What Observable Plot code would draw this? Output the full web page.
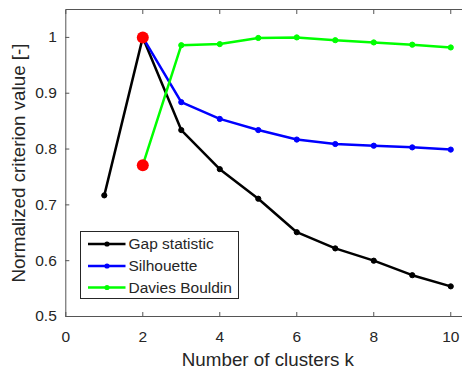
<!DOCTYPE html>
<html>
<head>
<meta charset="utf-8">
<script src="https://cdn.jsdelivr.net/npm/d3@7"></script>
<script src="https://cdn.jsdelivr.net/npm/@observablehq/plot@0.6"></script>
<style>
  html, body { margin: 0; padding: 0; background: #fff; overflow: hidden; }
  #chart { position: relative; width: 462px; height: 370px; overflow: hidden; }
  #chart > svg.plot-main { position: absolute; left: 0; top: 0; max-width: none !important; }
  #chart > svg.legend { position: absolute; left: 79.5px; top: 231px; }
</style>
</head>
<body>
<div id="chart"></div>
<script>
// Number of clusters k and the normalized value of each criterion
const clustersGap = [1, 2, 3, 4, 5, 6, 7, 8, 9, 10];
const gapStatistic = [0.717, 1.0, 0.834, 0.764, 0.711, 0.651, 0.622, 0.600, 0.574, 0.554];

const clustersSil = [2, 3, 4, 5, 6, 7, 8, 9, 10];
const silhouette = [1.0, 0.884, 0.854, 0.834, 0.817, 0.809, 0.806, 0.803, 0.799];

const clustersDB = [2, 3, 4, 5, 6, 7, 8, 9, 10];
const daviesBouldin = [0.771, 0.986, 0.988, 0.999, 1.0, 0.995, 0.991, 0.987, 0.982];

// Optimal k picked by each criterion (highlighted in red)
const optimumK = [2, 2];
const optimumValue = [1.0, 0.771];

const seriesNames = ["Gap statistic", "Silhouette", "Davies Bouldin"];
const seriesColors = ["#000000", "#0000ff", "#00ff00"];

const xTicks = [0, 2, 4, 6, 8, 10];
const yTicks = [0.5, 0.6, 0.7, 0.8, 0.9, 1];

const xLabel = "Number of clusters k";
const yLabel = "Normalized criterion value [-]";

const rows = [
  ...clustersGap.map((k, i) => ({k, value: gapStatistic[i], series: seriesNames[0]})),
  ...clustersSil.map((k, i) => ({k, value: silhouette[i], series: seriesNames[1]})),
  ...clustersDB.map((k, i) => ({k, value: daviesBouldin[i], series: seriesNames[2]}))
];
const optimum = optimumK.map((k, i) => ({k, value: optimumValue[i]}));

const font = "'Liberation Sans', Arial, Helvetica, sans-serif";
const ink = "#262626";
const axisStroke = "#555555";

const chart = Plot.plot({
  width: 470,
  height: 370,
  marginLeft: 65.3,
  marginRight: 0.5,
  marginTop: 9,
  marginBottom: 54,
  className: "plot-main",
  style: {fontFamily: font, fontSize: "15.5px", color: ink, background: "transparent"},
  x: {domain: [0, 10.5]},
  y: {domain: [0.5, 1.05]},
  color: {domain: seriesNames, range: seriesColors},
  marks: [
    Plot.frame({stroke: axisStroke, strokeWidth: 1}),
    // tick labels
    Plot.axisX(xTicks, {anchor: "bottom", tickSize: 0, tickPadding: 14, label: null, fill: ink, tickFormat: d => String(d)}),
    Plot.axisY(yTicks, {anchor: "left", tickSize: 0, tickPadding: 9, label: null, fill: ink, tickFormat: d => String(+d.toFixed(1))}),
    // inward tick marks
    Plot.axisX(xTicks, {anchor: "bottom", tickSize: -4, label: null, stroke: axisStroke, tickFormat: () => ""}),
    Plot.axisX(xTicks, {anchor: "top", tickSize: -4, label: null, stroke: axisStroke, tickFormat: () => ""}),
    Plot.axisY(yTicks, {anchor: "left", tickSize: -4, label: null, stroke: axisStroke, tickFormat: () => ""}),
    // axis titles
    Plot.text([xLabel], {frameAnchor: "bottom", dy: 43, text: d => d, fill: ink, fontSize: 18.8, lineAnchor: "middle", textAnchor: "middle"}),
    Plot.text([yLabel], {frameAnchor: "left", dx: -47, rotate: -90, text: d => d, fill: ink, fontSize: 18.8, lineAnchor: "middle", textAnchor: "middle"}),
    // criteria curves
    Plot.line(rows, {x: "k", y: "value", z: "series", stroke: "series", strokeWidth: 2.5}),
    Plot.dot(rows, {x: "k", y: "value", fill: "series", stroke: "series", r: 2.6, strokeWidth: 1}),
    // optimum markers
    Plot.dot(optimum, {x: "k", y: "value", fill: "#ff0000", r: 6})
  ]
});
chart.style.maxWidth = "none";
document.getElementById("chart").appendChild(chart);

// Legend box
const legendW = 159, legendH = 68, rowY = [13, 35, 56.5];
const legend = d3.select("#chart").append("svg")
  .attr("class", "legend")
  .attr("width", legendW)
  .attr("height", legendH)
  .style("font-family", font)
  .style("font-size", "15.5px");
legend.append("rect")
  .attr("x", 0.5).attr("y", 0.5)
  .attr("width", legendW - 1).attr("height", legendH - 1)
  .attr("fill", "#fff").attr("stroke", ink);
seriesNames.forEach((name, i) => {
  const g = legend.append("g").attr("transform", `translate(0,${rowY[i]})`);
  g.append("line").attr("x1", 8).attr("x2", 45.5).attr("stroke", seriesColors[i]).attr("stroke-width", 2.5);
  g.append("circle").attr("cx", 27).attr("r", 2.6).attr("fill", seriesColors[i]);
  g.append("text").attr("x", 48.5).attr("dy", "0.35em").attr("fill", ink).text(name);
});
</script>
</body>
</html>
